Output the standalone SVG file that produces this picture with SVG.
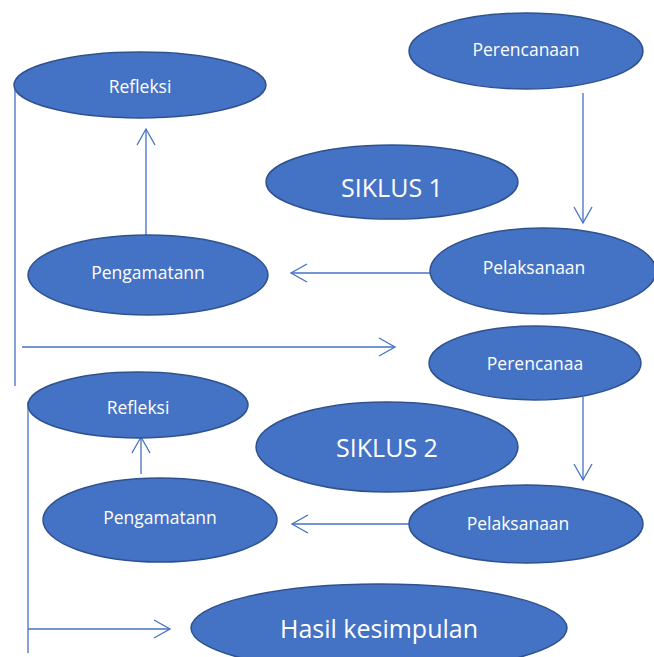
<svg xmlns="http://www.w3.org/2000/svg" width="654" height="657" viewBox="0 0 654 657">
<style>
.n{fill:#4472C4;stroke:#2F528F;stroke-width:1.5}
.t{fill:#fff;font-family:"Open Sans",sans-serif;font-size:17.5px;text-anchor:middle;dominant-baseline:central}
.b{font-size:25px}
.c{stroke:#4472C4;stroke-width:1.3;fill:none}
</style>
<defs>
<marker id="a" viewBox="0 0 20 20" refX="18" refY="10" markerWidth="20" markerHeight="20" markerUnits="userSpaceOnUse" orient="auto">
<path d="M2 1 L18 10 L2 19" fill="none" stroke="#4472C4" stroke-width="1.3"/>
</marker>
</defs>
<rect width="654" height="657" fill="#fff"/>
<g id="connectors">
<line class="c" x1="583" y1="93" x2="583" y2="223" marker-end="url(#a)"/>
<line class="c" x1="430" y1="273" x2="291" y2="273" marker-end="url(#a)"/>
<line class="c" x1="146" y1="236" x2="146" y2="129" marker-end="url(#a)"/>
<line class="c" x1="15" y1="86" x2="15" y2="386"/>
<line class="c" x1="22" y1="347" x2="395" y2="347" marker-end="url(#a)"/>
<line class="c" x1="583" y1="397" x2="583" y2="480" marker-end="url(#a)"/>
<line class="c" x1="409" y1="524" x2="292" y2="524" marker-end="url(#a)"/>
<line class="c" x1="141" y1="474" x2="141" y2="437" marker-end="url(#a)"/>
<line class="c" x1="28" y1="402" x2="28" y2="653"/>
<line class="c" x1="28" y1="629" x2="170" y2="629" marker-end="url(#a)"/>
</g>
<g id="perencanaan1"><ellipse class="n" cx="526" cy="51" rx="117" ry="38"/><text class="t" x="526" y="49">Perencanaan</text></g>
<g id="refleksi1"><ellipse class="n" cx="140" cy="85" rx="126" ry="33"/><text class="t" x="140" y="86">Refleksi</text></g>
<g id="siklus1"><ellipse class="n" cx="392" cy="182" rx="126" ry="37"/><text class="t b" x="392" y="187">SIKLUS 1</text></g>
<g id="pengamatann1"><ellipse class="n" cx="148" cy="275" rx="120" ry="40"/><text class="t" x="148" y="272">Pengamatann</text></g>
<g id="pelaksanaan1"><ellipse class="n" cx="543" cy="271" rx="113" ry="43"/><text class="t" x="534" y="267">Pelaksanaan</text></g>
<g id="perencanaa2"><ellipse class="n" cx="535" cy="363" rx="106" ry="37"/><text class="t" x="535" y="363">Perencanaa</text></g>
<g id="refleksi2"><ellipse class="n" cx="138" cy="405" rx="110" ry="33"/><text class="t" x="138" y="407">Refleksi</text></g>
<g id="siklus2"><ellipse class="n" cx="387" cy="447" rx="131" ry="45"/><text class="t b" x="387" y="447">SIKLUS 2</text></g>
<g id="pengamatann2"><ellipse class="n" cx="160" cy="520" rx="117" ry="42"/><text class="t" x="160" y="517">Pengamatann</text></g>
<g id="pelaksanaan2"><ellipse class="n" cx="526" cy="524" rx="117" ry="39"/><text class="t" x="518" y="523">Pelaksanaan</text></g>
<g id="hasil"><ellipse class="n" cx="379" cy="628" rx="188" ry="44"/><text class="t b" x="379" y="628">Hasil kesimpulan</text></g>
</svg>
